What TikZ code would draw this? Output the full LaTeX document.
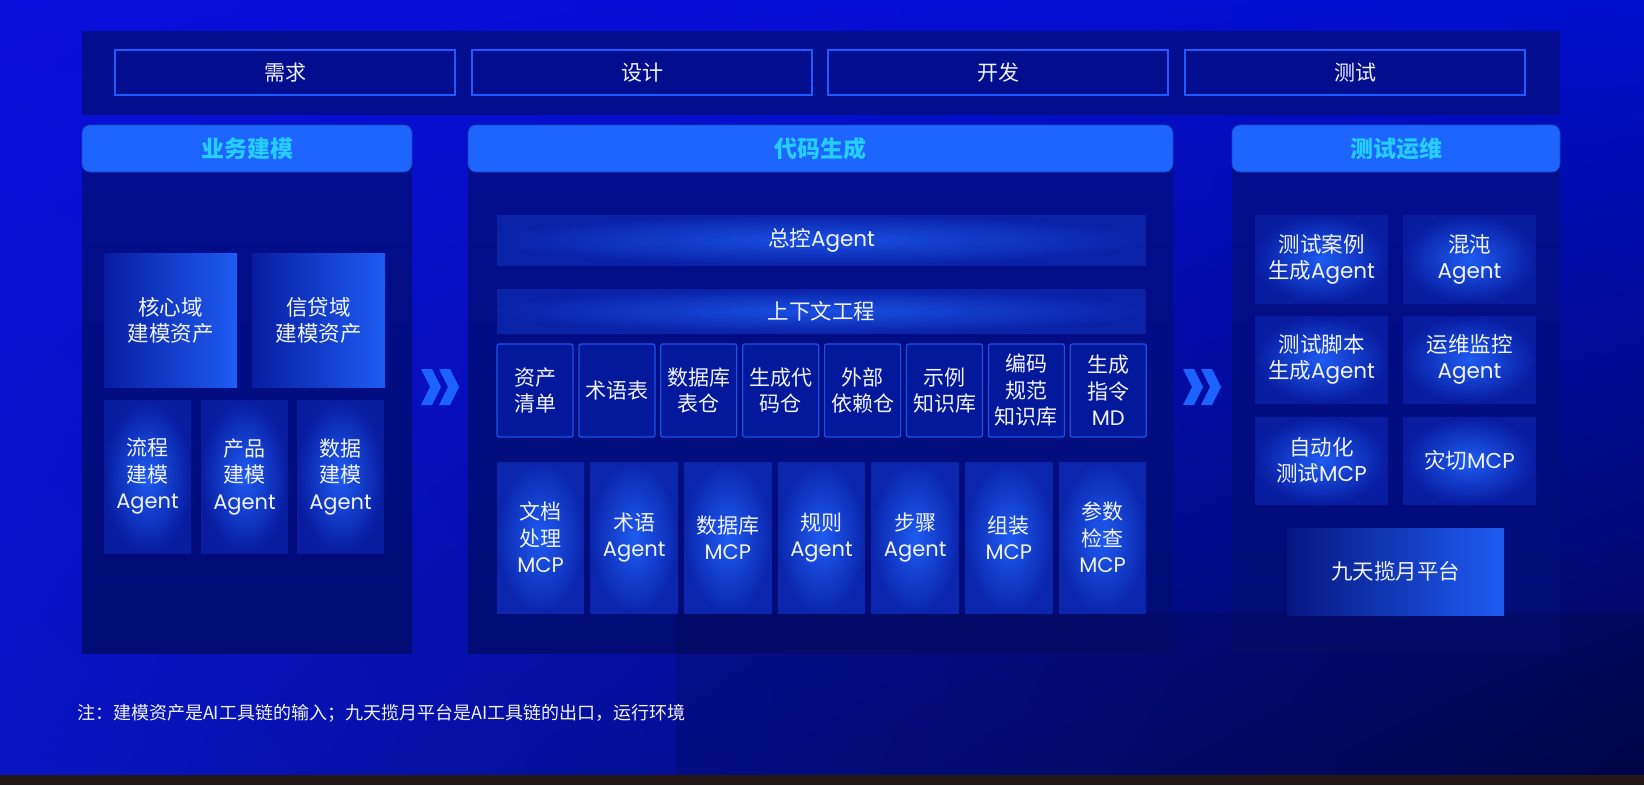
\documentclass[tikz,border=0pt]{standalone}
\usepackage{fontspec}
\setmainfont{Noto Sans CJK SC}
\newfontfamily\latfont{Poppins}
\usetikzlibrary{positioning,shadings}

\definecolor{bgtl}{RGB}{10,14,218}
\definecolor{bgtr}{RGB}{0,14,205}
\definecolor{bgbl}{RGB}{8,20,195}
\definecolor{bgbr}{RGB}{0,6,80}
\definecolor{strip}{RGB}{35,24,21}
\definecolor{panelbg}{RGB}{2,14,142}
\definecolor{panelbot}{RGB}{2,12,116}
\definecolor{headfill}{RGB}{30,100,255}
\definecolor{headtext}{RGB}{38,205,255}
\definecolor{barline}{RGB}{30,90,255}
\definecolor{boxdark}{RGB}{8,28,160}
\definecolor{boxlight}{RGB}{30,92,242}
\definecolor{kbfill}{RGB}{4,24,155}
\definecolor{kbline}{RGB}{25,82,232}
\definecolor{chev}{RGB}{28,98,255}
\definecolor{txt}{RGB}{240,243,255}

\newcommand\eng[1]{{\latfont #1}}

\tikzset{
  every node/.style={inner sep=0pt, outer sep=0pt, align=center, text=txt},
  stagebox/.style={draw=barline, line width=1.6pt, fill=panelbg,
    minimum width=340pt, minimum height=45pt, anchor=north west,
    font=\fontsize{21}{26}\selectfont},
  headbar/.style={fill=headfill, draw=headfill!70!black, line width=.8pt,
    rounded corners=8pt, minimum height=47pt, anchor=north west,
    text=headtext, font=\fontsize{23}{28}\selectfont\bfseries},
  assetbox/.style={left color=boxdark, right color=boxlight,
    minimum width=133pt, minimum height=134pt,
    font=\fontsize{21.5}{26}\selectfont},
  agentbox/.style={inner color=boxlight, outer color=boxdark,
    minimum width=87pt, minimum height=153pt,
    font=\fontsize{21}{26.5}\selectfont},
  widebar/.style={inner color=boxlight!80!boxdark, outer color=boxdark!90!boxlight,
    minimum width=649pt, anchor=north west,
    font=\fontsize{21.5}{26}\selectfont},
  kbbox/.style={fill=kbfill, draw=kbline, line width=1.2pt, rounded corners=2pt,
    minimum width=76pt, minimum height=93pt, anchor=north west,
    font=\fontsize{21}{26.5}\selectfont},
  toolbox/.style={inner color=boxlight, outer color=boxdark!85!boxlight,
    minimum width=87pt, minimum height=151pt, anchor=north west,
    font=\fontsize{21}{26.5}\selectfont},
  opsbox/.style={inner color=boxlight, outer color=boxdark,
    minimum width=133pt, minimum height=87pt,
    font=\fontsize{21.5}{26}\selectfont},
  platbox/.style={left color=boxdark!80!black, right color=boxlight,
    minimum width=217pt, minimum height=87pt, anchor=north west,
    font=\fontsize{21.5}{26}\selectfont},
  note/.style={anchor=west, font=\fontsize{18}{22}\selectfont}
}

\begin{document}
\begin{tikzpicture}[x=1pt,y=-1pt]
  \useasboundingbox (0,0) rectangle (1644,785);

  % background
  \shade[upper left=bgtl, upper right=bgtr, lower left=bgbl, lower right=bgbr]
    (0,0) rectangle (1644,775);
  \fill[strip] (0,775) rectangle (1644,785);

  % stages
  \fill[panelbg] (82,31) rectangle (1560,115);
  \foreach \name/\x/\t in {need/115/需求, design/472/设计, dev/828/开发, test/1185/测试}
    \node[stagebox] (\name) at (\x,50) {\t};

  % column panels
  \shade[top color=panelbg, bottom color=panelbot] (82,160) rectangle (412,653);
  \shade[top color=panelbg, bottom color=panelbot] (468,160) rectangle (1173,653);
  \shade[top color=panelbg, bottom color=panelbot] (1232,160) rectangle (1560,653);
  \node[headbar, minimum width=330pt] (bizhead) at (82,125) {业务建模};
  \node[headbar, minimum width=705pt] (codehead) at (468,125) {代码生成};
  \node[headbar, minimum width=328pt] (opshead) at (1232,125) {测试运维};
  \fill[black, opacity=.12] (676,613) rectangle (1644,775);

  % business modelling
  \node[assetbox, anchor=north west] (core) at (104,253) {核心域\\建模资产};
  \node[assetbox, right=15pt of core] (loan) {信贷域\\建模资产};
  \node[agentbox, anchor=north west] (flow) at (104,400) {流程\\建模\\\eng{Agent}};
  \node[agentbox, right=10pt of flow] (prod) {产品\\建模\\\eng{Agent}};
  \node[agentbox, right=9pt of prod] (data) {数据\\建模\\\eng{Agent}};

  % code generation
  \node[widebar, minimum height=50pt] (ctrl) at (497,215) {总控\eng{Agent}};
  \node[widebar, minimum height=44pt] (ctx) at (497,289) {上下文工程};
  \foreach \t [count=\i] in {{资产\\清单}, 术语表, {数据库\\表仓}, {生成代\\码仓},
      {外部\\依赖仓}, {示例\\知识库}, {编码\\规范\\知识库}, {生成\\指令\\\eng{MD}}}
    \node[kbbox] (kb\i) at ({497+(\i-1)*81.9},344) {\t};
  \foreach \t [count=\i] in {{文档\\处理\\\eng{MCP}}, {术语\\\eng{Agent}},
      {数据库\\\eng{MCP}}, {规则\\\eng{Agent}}, {步骤\\\eng{Agent}},
      {组装\\\eng{MCP}}, {参数\\检查\\\eng{MCP}}}
    \node[toolbox] (tool\i) at ({497+(\i-1)*93.67},462) {\t};

  % test and operations
  \node[opsbox, anchor=north west, minimum height=88pt] (case) at (1255,215) {测试案例\\生成\eng{Agent}};
  \node[opsbox, minimum height=88pt, right=15pt of case] (chaos) {混沌\\\eng{Agent}};
  \node[opsbox, below=13pt of case] (script) {测试脚本\\生成\eng{Agent}};
  \node[opsbox, right=15pt of script] (monitor) {运维监控\\\eng{Agent}};
  \node[opsbox, below=14pt of script] (autotest) {自动化\\测试\eng{MCP}};
  \node[opsbox, right=15pt of autotest] (drill) {灾切\eng{MCP}};
  \node[platbox] (platform) at (1287,528) {九天揽月平台};

  % chevrons
  \foreach \cx in {421,1183}
    \foreach \dx in {0,18}
      \fill[chev] ({\cx+\dx},369) -- ++(11,0) -- ++(9,18) -- ++(-9,18)
        -- ++(-11,0) -- ++(9,-18) -- cycle;

  \node[note] (footnote) at (77,713)
    {注：建模资产是AI工具链的输入；九天揽月平台是AI工具链的出口，运行环境};
\end{tikzpicture}
\end{document}
